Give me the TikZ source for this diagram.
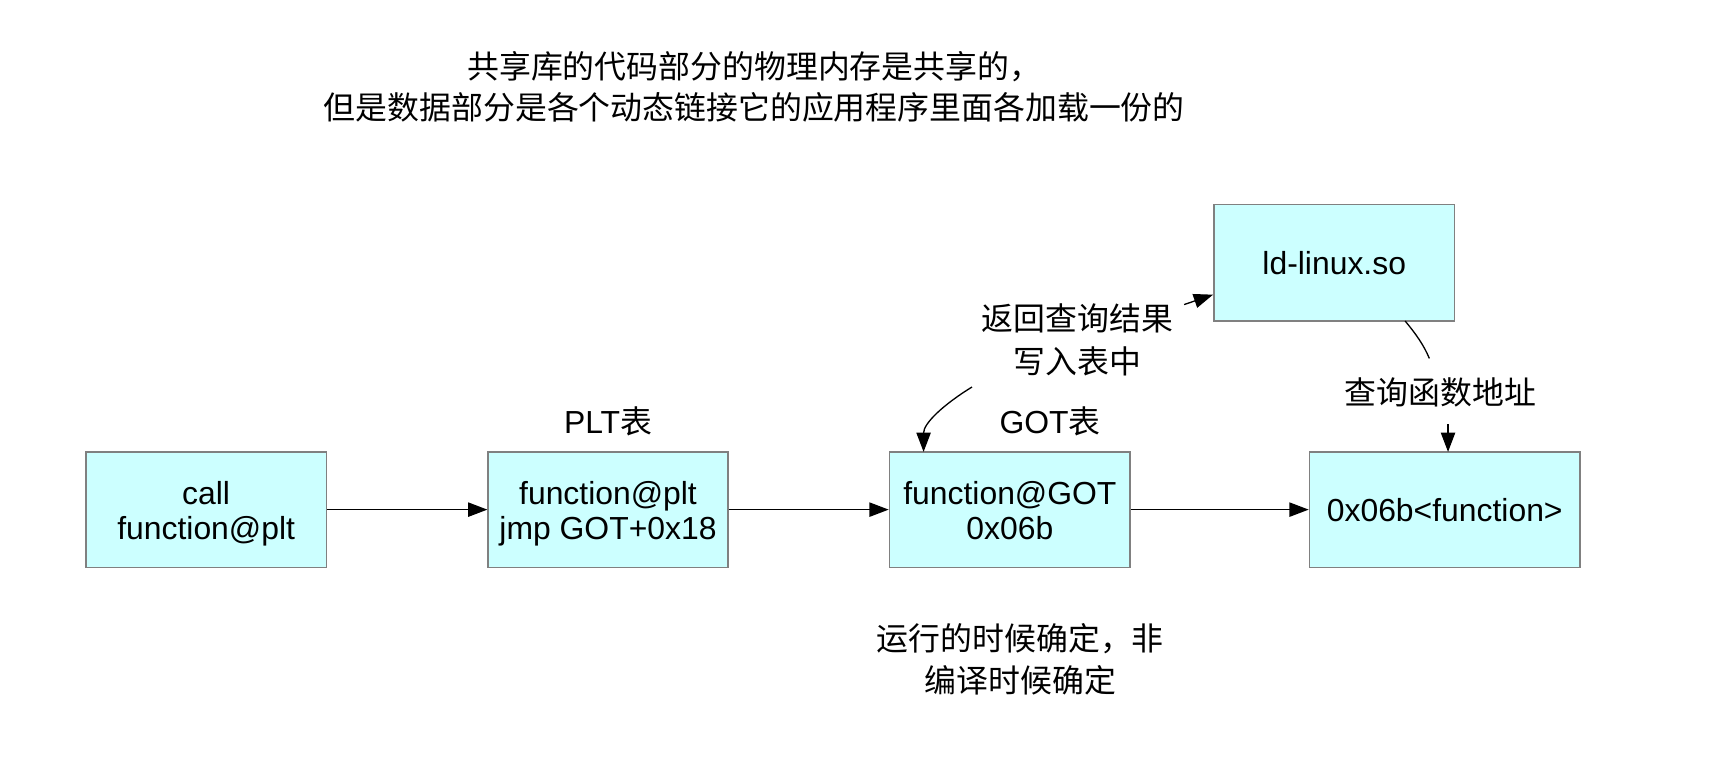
\documentclass[tikz,border=0pt]{standalone}
\usepackage{fontspec}
\setmainfont{Liberation Sans}
\newfontfamily\cjk{Noto Sans CJK SC}
\usetikzlibrary{arrows.meta}
\definecolor{boxfill}{HTML}{CCFFFF}
\definecolor{boxline}{HTML}{808080}
\newcommand\twoline[2]{\raisebox{-5pt}[\height][\depth]{\begin{tabular}{@{}c@{}}#1\\#2\end{tabular}}}
\begin{document}
\begin{tikzpicture}[x=1pt,y=-1pt,
  box/.style={draw=boxline,fill=boxfill,line width=1.5pt,inner sep=0pt,align=center,
    font=\fontsize{29}{32}\selectfont},
  lbl/.style={inner sep=0pt,align=center,font=\fontsize{29}{38}\selectfont\cjk},
  conn/.style={line width=1.2pt,-{Triangle[length=17.5pt,width=13pt]}},
  plain/.style={line width=1.2pt}]
\useasboundingbox (0,0) rectangle (1568,713);
\fill[white] (0,0) rectangle (1568,713);

\node[box,minimum width=219pt,minimum height=105pt] (b1) at (187.5,463.5) {\twoline{call}{function@plt}};
\node[box,minimum width=218pt,minimum height=105pt] (b2) at (553,463.5) {\twoline{function@plt}{jmp GOT+0x18}};
\node[box,minimum width=219pt,minimum height=105pt] (b3) at (918.5,463.5) {\twoline{function@GOT}{0x06b}};
\node[box,minimum width=246pt,minimum height=105pt] (b4) at (1314,463.5) {0x06b<function>};
\node[box,minimum width=219pt,minimum height=106pt] (ld) at (1213.5,239) {ld-linux.so};

\node[lbl,font=\fontsize{29}{36.5}\selectfont\cjk] (top) at (686,79) {共享库的代码部分的物理内存是共享的，\\但是数据部分是各个动态链接它的应用程序里面各加载一份的};
\node[lbl,font=\fontsize{29}{40}\selectfont] (plt) at (553,383) {PLT{\cjk 表}};
\node[lbl,font=\fontsize{29}{40}\selectfont] (got) at (955,383) {GOT{\cjk 表}};
\node[lbl,font=\fontsize{29}{39}\selectfont\cjk] (ret) at (980,309) {返回查询结果\\写入表中};
\node[lbl] (query) at (1310,357) {查询函数地址};
\node[lbl] (run) at (928,600) {运行的时候确定，非\\编译时候确定};

\coordinate (r1) at (1077,277);
\coordinate (c1) at (884,352);
\coordinate (c2) at (840,411);
\coordinate (q1) at (1278,292);
\coordinate (q2) at (1300,326);
\coordinate (q3) at (1317,386);
\coordinate (q4) at (1317,411);

\draw[conn] (b1.east) -- (b2.west);
\draw[conn] (b2.east) -- (b3.west);
\draw[conn] (b3.east) -- (b4.west);
\draw[conn] (r1) -- (ld.west |- 0,268);
\draw[conn] (c1) .. controls (858,368) and (840,385) .. (c2);
\draw[plain] (q1) .. controls (1288,304) and (1295,314) .. (q2);
\draw[conn] (q3) -- (q4);
\end{tikzpicture}
\end{document}
